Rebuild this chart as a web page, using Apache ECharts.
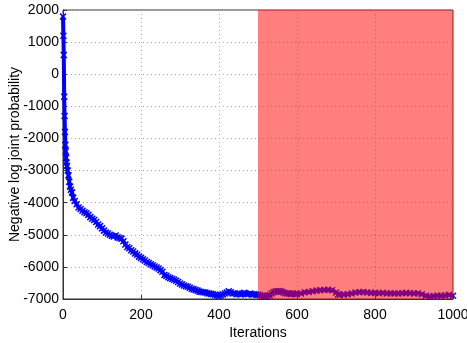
<!DOCTYPE html>
<html>
<head>
<meta charset="utf-8">
<script src="https://cdn.jsdelivr.net/npm/echarts@6/dist/echarts.min.js"></script>
<style>
  html, body { margin: 0; padding: 0; background: #fff; }
  #chart { width: 467px; height: 343px; }
</style>
</head>
<body>
<div id="chart"></div>
<script>
// iteration numbers and the objective
const iterations = [
  0, 1, 2, 3, 4, 5, 6, 7, 8, 9, 10, 12, 14, 16, 18, 20, 23, 26, 30, 35,
  40, 45, 50, 55, 60, 65, 70, 75, 80, 85, 90, 95, 100, 105, 110, 115, 120, 125, 130, 135,
  140, 145, 150, 155, 160, 165, 170, 175, 180, 185, 190, 195, 200, 205, 210, 215, 220, 225, 230, 235,
  240, 245, 250, 255, 260, 265, 270, 275, 280, 285, 290, 295, 300, 305, 310, 315, 320, 325, 330, 335,
  340, 345, 350, 355, 360, 365, 370, 375, 380, 385, 390, 395, 400, 405, 410, 415, 420, 425, 430, 435,
  440, 445, 450, 455, 460, 465, 470, 475, 480, 485, 490, 495, 500, 505, 510, 515, 520, 525, 530, 535,
  540, 545, 550, 555, 560, 565, 570, 575, 580, 585, 590, 595, 600, 610, 620, 630, 640, 650, 660, 670,
  680, 690, 700, 705, 710, 720, 730, 740, 750, 760, 770, 780, 790, 800, 810, 820, 830, 840, 850, 860,
  870, 880, 890, 900, 910, 920, 930, 940, 950, 960, 970, 980, 990, 1000
];
const logProb = [
  1800, 1200, 600, -700, -1300, -1800, -2200, -2400, -2600, -2750, -2850, -3000, -3150, -3350, -3500, -3600, -3680, -3850, -3950, -4050,
  -4150, -4200, -4250, -4300, -4330, -4380, -4450, -4500, -4540, -4600, -4680, -4730, -4800, -4870, -4930, -4960, -5000, -5030, -5050, -5020,
  -5080, -5100, -5120, -5200, -5300, -5380, -5420, -5480, -5520, -5580, -5620, -5680, -5720, -5760, -5800, -5850, -5880, -5920, -5950, -5990,
  -6020, -6050, -6100, -6150, -6250, -6280, -6320, -6350, -6380, -6400, -6430, -6470, -6520, -6550, -6580, -6600, -6620, -6650, -6680, -6700,
  -6720, -6740, -6770, -6780, -6790, -6800, -6820, -6830, -6840, -6850, -6870, -6890, -6910, -6880, -6860, -6830, -6800, -6760, -6790, -6830,
  -6820, -6850, -6840, -6860, -6830, -6810, -6840, -6850, -6830, -6860, -6850, -6860, -6870, -6880, -6900, -6920, -6930, -6900, -6880, -6830,
  -6790, -6770, -6760, -6750, -6770, -6800, -6820, -6830, -6830, -6840, -6830, -6850, -6840, -6830, -6790, -6780, -6760, -6740, -6730, -6720,
  -6710, -6730, -6800, -6860, -6870, -6860, -6850, -6830, -6800, -6790, -6780, -6800, -6810, -6810, -6820, -6810, -6830, -6820, -6830, -6830,
  -6820, -6810, -6820, -6830, -6820, -6850, -6900, -6920, -6910, -6890, -6900, -6890, -6870, -6900
];
const shadeRange = [500, 1000];

const xMarker = 'path://M0,0L10,10M10,0L0,10';
const font = 'Liberation Sans, Arial, Helvetica, sans-serif';

const chart = echarts.init(document.getElementById('chart'), null, { renderer: 'canvas' });

const option = {
  backgroundColor: '#fff',
  animation: false,
  grid: {
    left: 63,
    right: 14,
    top: 10,
    bottom: 44,
    outerBoundsMode: 'none',
    containLabel: false,
    show: true,
    borderColor: '#333',
    borderWidth: 1,
    backgroundColor: 'transparent'
  },
  xAxis: {
    type: 'value',
    min: 0,
    max: 1000,
    interval: 200,
    name: 'Iterations',
    nameLocation: 'middle',
    nameGap: 27,
    nameMoveOverlap: false,
    nameTextStyle: { color: '#000', fontSize: 14, fontFamily: font },
    axisLine: { show: true, onZero: false, lineStyle: { color: '#333' } },
    axisTick: { show: true, inside: true, length: 4, lineStyle: { color: '#333' } },
    axisLabel: { color: '#000', fontSize: 14, fontFamily: font, margin: 9, formatter: (v) => String(v) },
    splitLine: { show: true, lineStyle: { type: [1, 3], color: '#aaa' } }
  },
  yAxis: {
    type: 'value',
    min: -7000,
    max: 2000,
    interval: 1000,
    name: 'Negative log joint probability',
    nameLocation: 'middle',
    nameGap: 41,
    nameMoveOverlap: false,
    nameTextStyle: { color: '#000', fontSize: 14, fontFamily: font },
    axisLine: { show: true, onZero: false, lineStyle: { color: '#333' } },
    axisTick: { show: true, inside: true, length: 4, lineStyle: { color: '#333' } },
    axisLabel: { color: '#000', fontSize: 14, fontFamily: font, margin: 4, formatter: (v) => String(v) },
    splitLine: { show: true, lineStyle: { type: [1, 3], color: '#aaa' } }
  },
  series: [
    {
      type: 'line',
      data: iterations.map((it, i) => [it, logProb[i]]),
      z: 2,
      symbol: xMarker,
      symbolSize: 6,
      showAllSymbol: true,
      itemStyle: { color: 'transparent', borderColor: '#0000ff', borderWidth: 1.5 },
      lineStyle: { color: '#0000ff', width: 4 }
    },
    {
      type: 'line',
      data: [],
      z: 5,
      silent: true,
      markArea: {
        silent: true,
        z: 10,
        itemStyle: { color: 'rgba(255,0,0,0.5)' },
        data: [[{ xAxis: shadeRange[0] }, { xAxis: shadeRange[1] }]]
      }
    }
  ]
};

chart.setOption(option);
</script>
</body>
</html>
